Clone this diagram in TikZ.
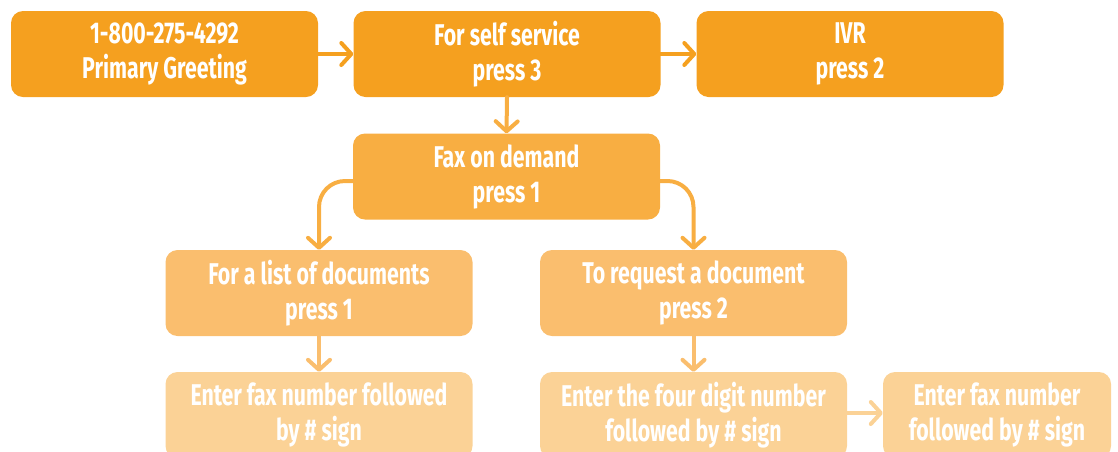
\documentclass[tikz,border=0pt]{standalone}
\usepackage{fontspec}
\setmainfont{Fira Sans}[FakeStretch=0.71]
\usetikzlibrary{arrows.meta}
\definecolor{lvA}{HTML}{F5A01F}
\definecolor{lvB}{HTML}{F8AE42}
\definecolor{lvC}{HTML}{FABE6E}
\definecolor{lvD}{HTML}{FBD296}
\tikzset{
  menubox/.style={rectangle, rounded corners=12pt, minimum width=307pt,
    minimum height=86pt, inner sep=0pt, text=white, align=center,
    font=\fontsize{30}{35}\selectfont\bfseries},
  link/.style={line width=4pt, line cap=round, line join=round,
    -{Straight Barb[length=10pt,width=22pt,line width=4pt,round]}},
}
\begin{document}
\begin{tikzpicture}[x=1pt,y=-1pt]
  \useasboundingbox (0,0) rectangle (1118,451);
  \begin{scope}
  \clip (0,0) rectangle (1118,451);
  % top row
  \node[menubox, fill=lvA] (greet) at (164.5,54) {1-800-275-4292\\Primary Greeting};
  \node[menubox, fill=lvA] (self) at (507,54) {For self service\\press 3};
  \node[menubox, fill=lvA] (ivr) at (850,54) {IVR\\press 2};
  % fax branch
  \node[menubox, fill=lvB] (fax) at (506.5,176.5) {Fax on demand\\press 1};
  \node[menubox, fill=lvC] (list) at (319,293) {For a list of documents\\press 1};
  \node[menubox, fill=lvC] (req) at (693.5,293) {To request a document\\press 2};
  % final prompts
  \node[menubox, fill=lvD] (faxA) at (319,415) {Enter fax number followed\\by \# sign};
  \node[menubox, fill=lvD] (digits) at (693.5,415) {Enter the four digit number\\followed by \# sign};
  \node[menubox, fill=lvD, minimum width=228pt] (faxB) at (997,415) {Enter fax number\\followed by \# sign};
  \end{scope}
  % connectors
  \draw[link, draw=lvA] (greet.east) -- (self.west);
  \draw[link, draw=lvA] (self.east) -- (ivr.west);
  \draw[link, draw=lvB] (self.south) -- (fax.north);
  \draw[link, draw=lvB, rounded corners=26pt] ([yshift=-4.5pt]fax.west) -| (list.north);
  \draw[link, draw=lvB, rounded corners=26pt] ([yshift=-4.5pt]fax.east) -| (req.north);
  \draw[link, draw=lvC] (list.south) -- (faxA.north);
  \draw[link, draw=lvC] (req.south) -- (digits.north);
  \draw[link, draw=lvD] ([yshift=2pt]digits.east) -- ([yshift=2pt]faxB.west);
\end{tikzpicture}
\end{document}
